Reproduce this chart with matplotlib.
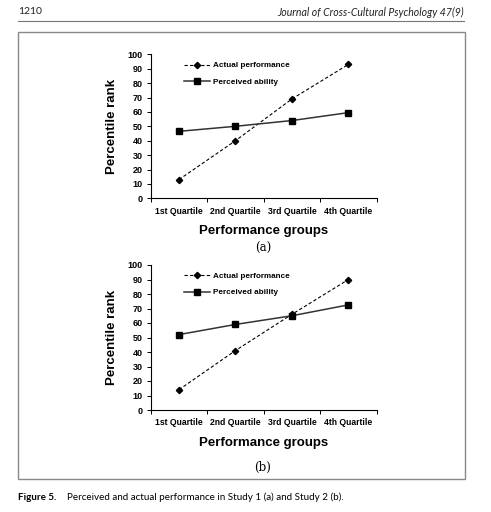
import matplotlib
matplotlib.use("Agg")
import matplotlib.pyplot as plt
from matplotlib.patches import Rectangle
from matplotlib.lines import Line2D

groups = ["1st Quartile", "2nd Quartile", "3rd Quartile", "4th Quartile"]
actual_a = [13, 40, 69, 93]
perceived_a = [46.5, 50, 54, 59.5]
actual_b = [14, 41, 66, 90]
perceived_b = [52, 59, 65, 72.5]
yticks = list(range(0, 101, 10))

W, H = 491, 512
plt.rcParams["font.family"] = ["Liberation Sans", "DejaVu Sans"]
fig = plt.figure(figsize=(W / 100, H / 100), dpi=100)


def px(x, y):
    return x / W, 1 - y / H


def draw_panel(rect, actual, perceived, tag, tag_y):
    ax = fig.add_axes(rect)
    x = range(len(groups))
    ax.plot(x, actual, color="black", lw=0.8, ls=(0, (3, 2)),
            marker="D", ms=3.2, label="Actual performance")
    ax.plot(x, perceived, color="#333333", lw=1.1,
            marker="s", ms=5, mfc="black", mec="black", label="Perceived ability")
    ax.set_xlim(-0.5, 3.5)
    ax.set_ylim(0, 100)
    ax.set_yticks(yticks)
    ax.set_xticks([-0.5, 0.5, 1.5, 2.5, 3.5])
    ax.set_xticklabels([])
    ax.set_xticks(list(x), minor=True)
    ax.set_xticklabels(groups, minor=True, fontsize=6.2, fontweight="bold")
    ax.tick_params(axis="x", which="minor", length=0, pad=6)
    ax.tick_params(axis="x", which="major", length=3, width=0.7)
    ax.tick_params(axis="y", length=3, width=0.7, labelsize=6.5, pad=3)
    for lab in ax.get_yticklabels():
        lab.set_fontweight("bold")
    for s in ["top", "right"]:
        ax.spines[s].set_visible(False)
    for s in ["left", "bottom"]:
        ax.spines[s].set_linewidth(0.8)
    ax.set_ylabel("Percentile rank", fontsize=9.5, fontweight="bold", labelpad=7)
    ax.set_xlabel("Performance groups", fontsize=9.5, fontweight="bold", labelpad=7)
    ax.legend(loc="upper left", bbox_to_anchor=(0.115, 1.0), frameon=False,
              prop={"size": 5.9, "weight": "bold"}, handlelength=3.2,
              handletextpad=0.3, labelspacing=1.05)
    fig.text(*px(263, tag_y), tag, ha="center", va="center",
             family="DejaVu Serif", fontsize=8.5)
    return ax


draw_panel([150.7 / W, 1 - 198.3 / H, 226 / W, 144 / H], actual_a, perceived_a, "(a)", 248)
draw_panel([150.7 / W, 1 - 410 / H, 226 / W, 145 / H], actual_b, perceived_b, "(b)", 467)

# page header, frame and caption
fig.text(*px(18, 12), "1210", fontsize=7.5, va="center", family="Lato", color="#222222")
fig.text(*px(464, 12), "Journal of Cross-Cultural Psychology 47(9)", fontsize=7.6,
         va="center", ha="right", family="Lato", style="italic", color="#222222")
fig.add_artist(Line2D([18 / W, 464 / W], [1 - 21 / H, 1 - 21 / H], color="#777777", lw=0.8))
fig.add_artist(Rectangle(px(18, 479), (465 - 18) / W, (479 - 32) / H, fill=False,
                         edgecolor="#888888", lw=1.0))
fig.text(*px(18, 497), "Figure 5.", fontsize=7.1, va="center", family="Lato", fontweight="bold")
fig.text(*px(67, 497), "Perceived and actual performance in Study 1 (a) and Study 2 (b).",
         fontsize=7.1, va="center", family="Lato")

fig.savefig("out.png", dpi=100)
